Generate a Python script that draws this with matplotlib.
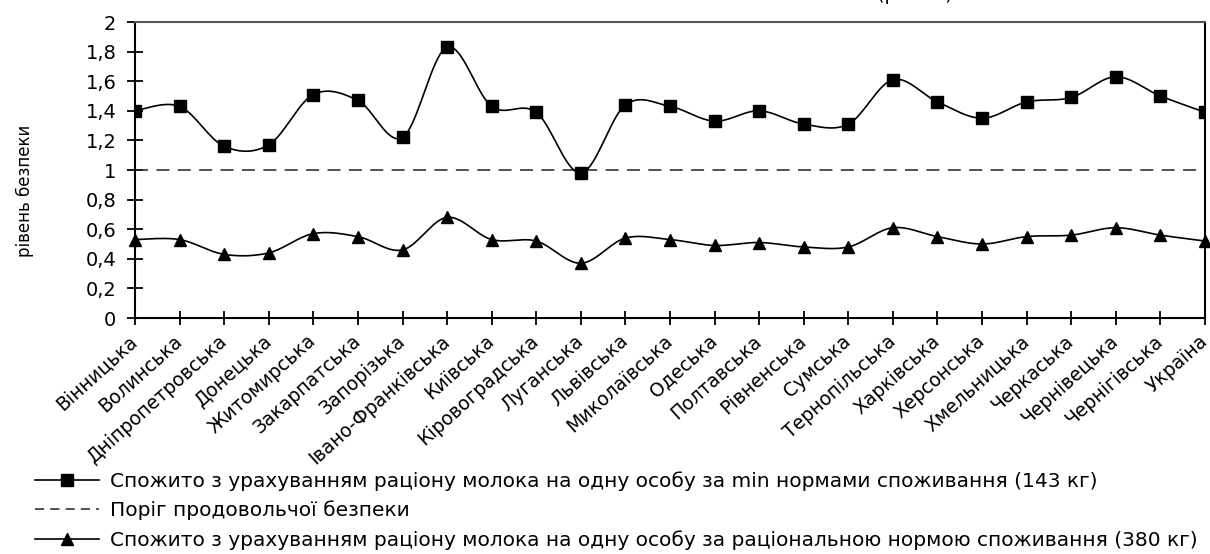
import numpy as np
import matplotlib
matplotlib.use("Agg")
import matplotlib.pyplot as plt
from matplotlib.lines import Line2D
from matplotlib.ticker import FuncFormatter

plt.rcParams['font.family'] = ['DejaVu Sans']

# regions of Ukraine
regions = ['Вінницька', 'Волинська', 'Дніпропетровська', 'Донецька', 'Житомирська',
           'Закарпатська', 'Запорізька', 'Івано-Франківська', 'Київська', 'Кіровоградська',
           'Луганська', 'Львівська', 'Миколаївська', 'Одеська', 'Полтавська', 'Рівненська',
           'Сумська', 'Тернопільська', 'Харківська', 'Херсонська', 'Хмельницька',
           'Черкаська', 'Чернівецька', 'Чернігівська', 'Україна']

# consumption level at minimal norm (143 kg)
min_norm = [1.40, 1.43, 1.16, 1.17, 1.51, 1.47, 1.22, 1.83, 1.43, 1.39, 0.98, 1.44, 1.43,
            1.33, 1.40, 1.31, 1.31, 1.61, 1.46, 1.35, 1.46, 1.49, 1.63, 1.50, 1.39]

# consumption level at rational norm (380 kg)
rational_norm = [0.53, 0.53, 0.43, 0.44, 0.57, 0.55, 0.46, 0.68, 0.53, 0.52, 0.37, 0.54, 0.53,
                 0.49, 0.51, 0.48, 0.48, 0.61, 0.55, 0.50, 0.55, 0.56, 0.61, 0.56, 0.52]

threshold = 1.0

labels = ['Спожито з урахуванням раціону молока на одну особу за min нормами споживання (143 кг)',
          'Поріг продовольчої безпеки',
          'Спожито з урахуванням раціону молока на одну особу за раціональною нормою споживання (380 кг)']


def smooth(x, y, n=20):
    # Excel-like smoothed line (Catmull-Rom through the points)
    x = np.asarray(x, float)
    y = np.asarray(y, float)
    px = np.concatenate([[x[0]], x, [x[-1]]])
    py = np.concatenate([[y[0]], y, [y[-1]]])
    xs, ys = [], []
    t = np.linspace(0, 1, n)
    for i in range(1, len(px) - 2):
        p0, p1, p2, p3 = (np.array([px[j], py[j]]) for j in (i - 1, i, i + 1, i + 2))
        c1 = p1 + (p2 - p0) / 6
        c2 = p2 - (p3 - p1) / 6
        b = ((1 - t) ** 3)[:, None] * p1 + (3 * (1 - t) ** 2 * t)[:, None] * c1 + \
            (3 * (1 - t) * t ** 2)[:, None] * c2 + (t ** 3)[:, None] * p2
        xs.extend(b[:, 0])
        ys.extend(b[:, 1])
    return np.array(xs), np.array(ys)


fig = plt.figure(figsize=(12.1, 5.54), dpi=100)
ax = fig.add_axes([135 / 1210, 1 - 318 / 554, 1070 / 1210, 296 / 554])

x = np.arange(len(regions))

sx, sy = smooth(x, min_norm)
ax.plot(sx, sy, color='black', lw=1.2, zorder=3)
ax.plot(x, min_norm, ls='none', marker='s', ms=8.5, color='black', zorder=4)

ax.plot([x[0], x[-1] - 0.1], [threshold, threshold], color='#222222', lw=1.1,
        dashes=(8.5, 5.5), zorder=2)

sx, sy = smooth(x, rational_norm)
ax.plot(sx, sy, color='black', lw=1.2, zorder=3)
ax.plot(x, rational_norm, ls='none', marker='^', ms=9, color='black', zorder=4, clip_on=False)

ax.set_xlim(0, len(regions) - 1)
ax.set_ylim(0, 2)
ax.set_yticks(np.arange(0, 2.01, 0.2))
ax.yaxis.set_major_formatter(FuncFormatter(lambda v, p: ('%.1f' % v).rstrip('0').rstrip('.').replace('.', ',')))
ax.set_xticks(x)
ax.set_xticklabels(regions, rotation=42, ha='right', va='center', rotation_mode='anchor', fontsize=13.5)

ax.tick_params(axis='y', direction='inout', length=11, width=1.3, labelsize=14, pad=8)
ax.tick_params(axis='x', direction='inout', length=9.5, width=1.3, pad=10)
for s in ax.spines.values():
    s.set_linewidth(1.5)
ax.spines['top'].set_color('#555555')

ax.set_ylabel('рівень безпеки', fontsize=12)
ax.yaxis.set_label_coords(-0.094, 0.43)

handles = [Line2D([], [], color='black', lw=1.2, marker='s', ms=8),
           Line2D([], [], color='#222222', lw=1.1, dashes=(6, 4)),
           Line2D([], [], color='black', lw=1.2, marker='^', ms=9)]
fig.legend(handles, labels, loc='upper left', bbox_to_anchor=(35 / 1210, 1 - 471 / 554),
           frameon=False, fontsize=14.5, handlelength=3.2, handletextpad=0.5,
           labelspacing=0.5, borderpad=0, borderaxespad=0)

# title cut off at the top edge of the original picture
fig.text(877 / 1210, 1 - 4 / 554, '(рис. 4).', fontsize=14, va='bottom')

fig.savefig('out.png', dpi=100)
